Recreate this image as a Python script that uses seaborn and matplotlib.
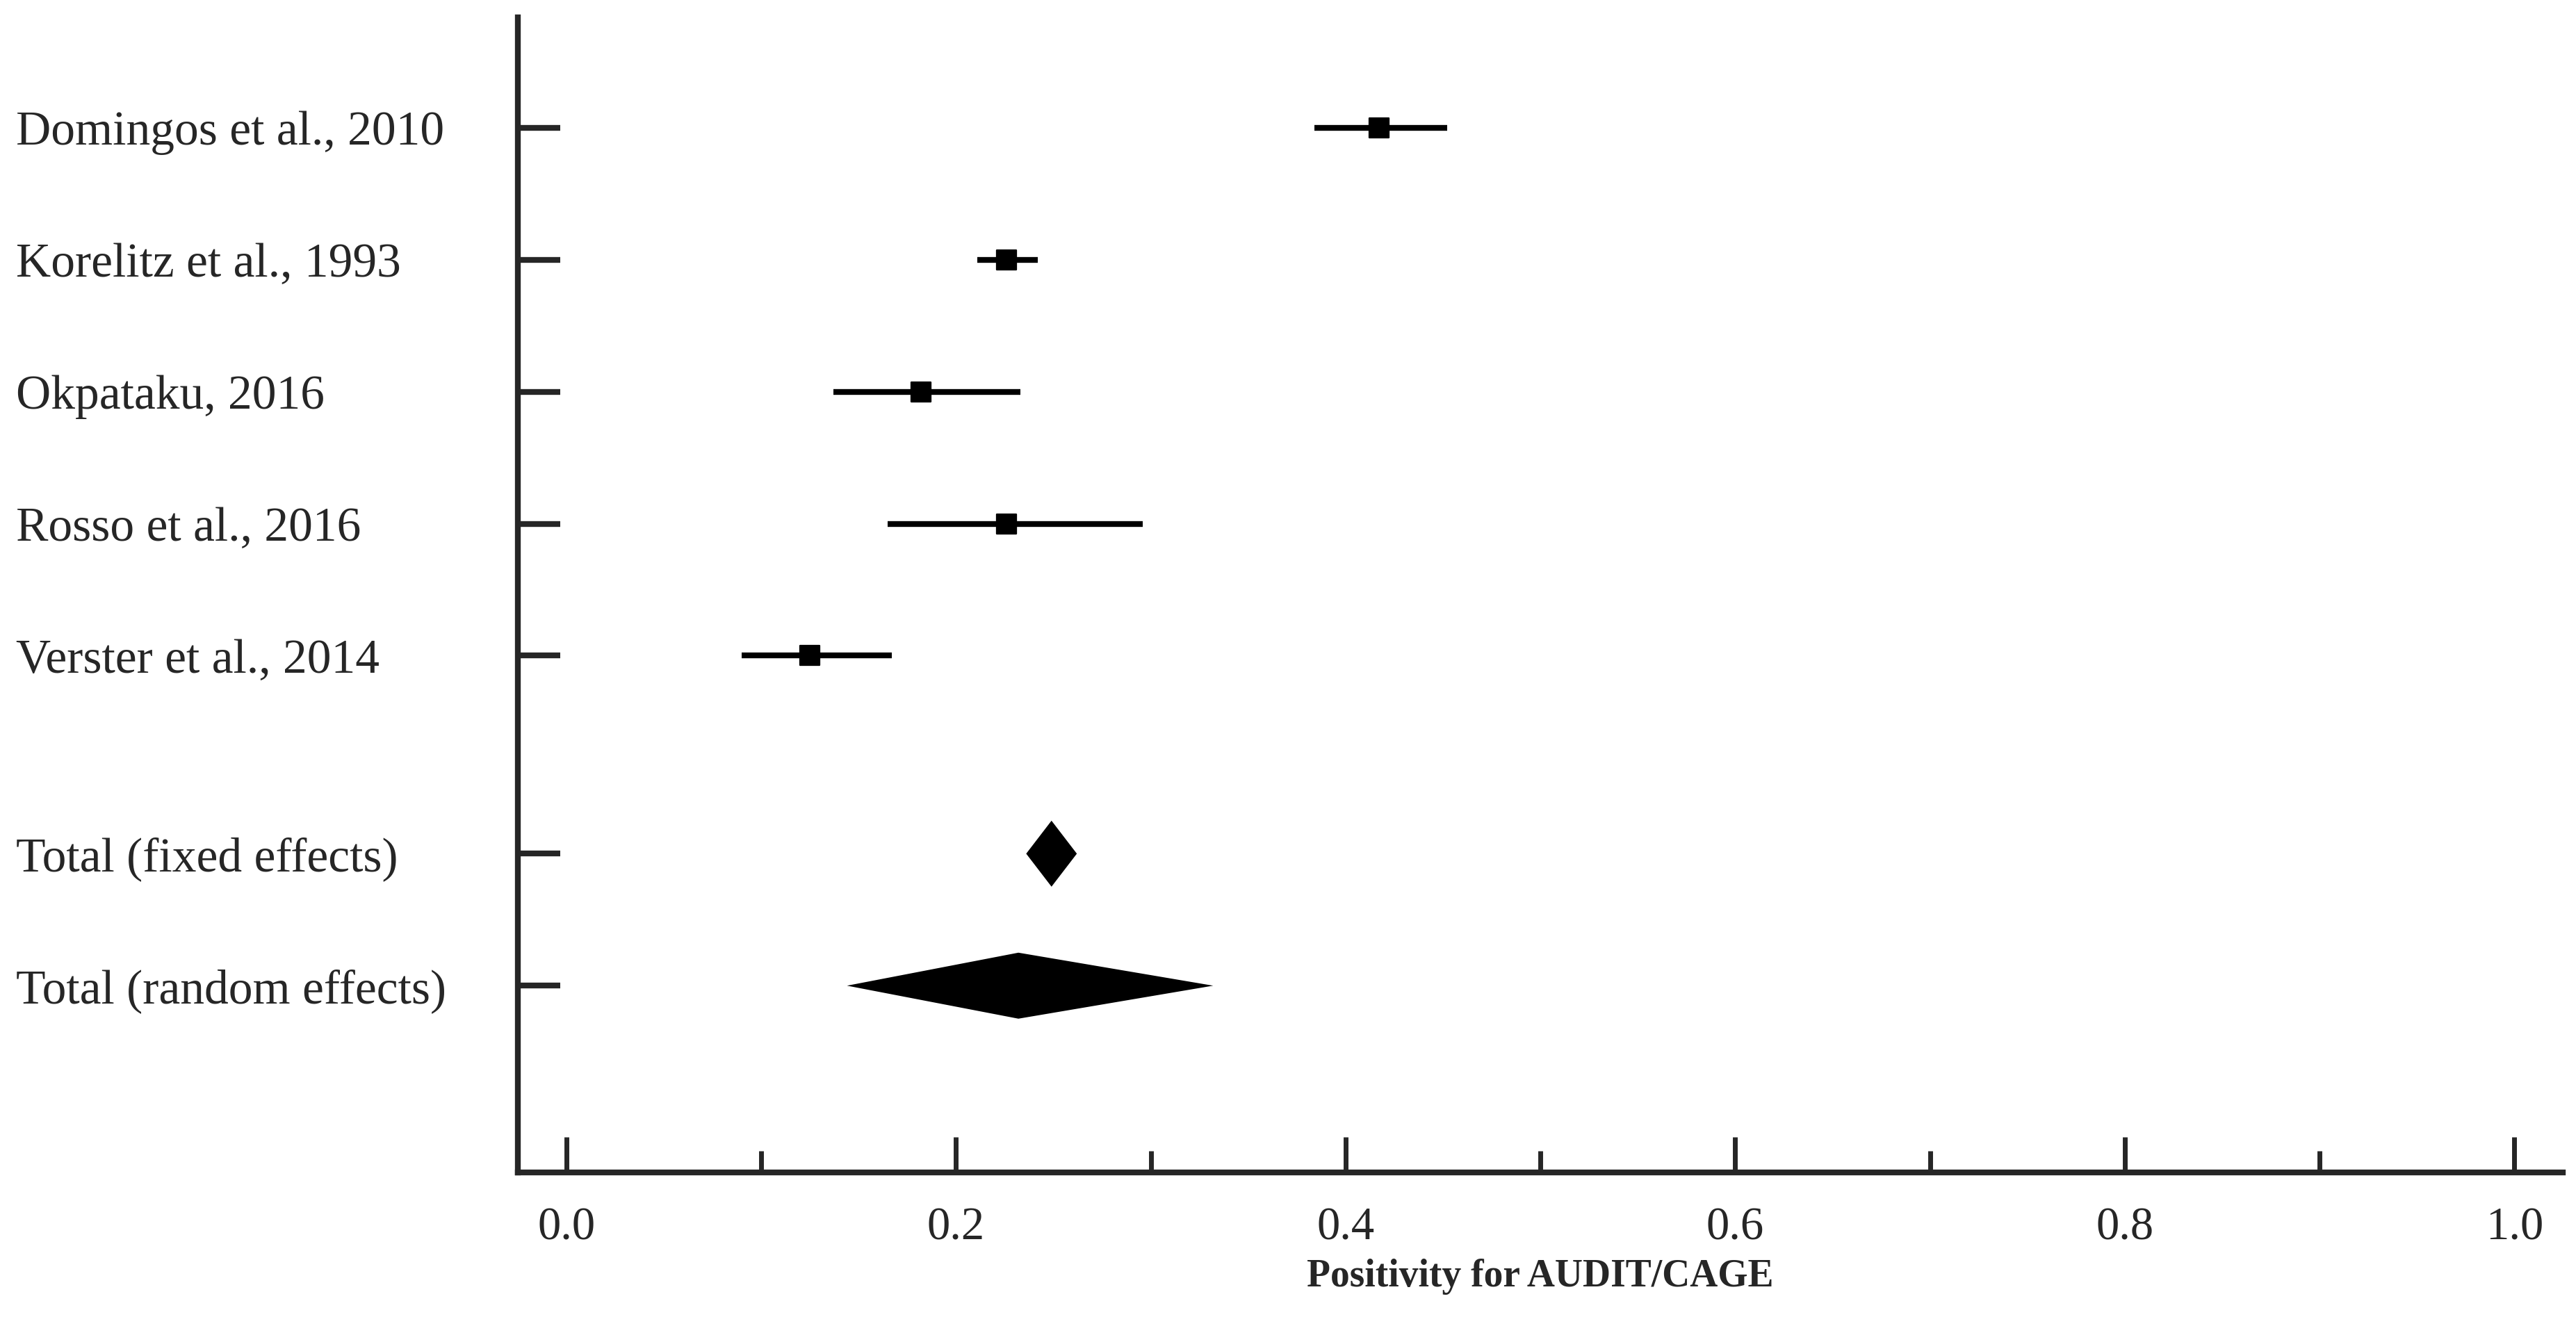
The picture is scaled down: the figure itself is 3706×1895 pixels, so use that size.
import matplotlib
matplotlib.use("Agg")
import matplotlib.pyplot as plt
import seaborn as sns
import pandas as pd
from matplotlib.ticker import MultipleLocator

# study estimates
studies = ["Domingos et al., 2010", "Korelitz et al., 1993", "Okpataku, 2016",
           "Rosso et al., 2016", "Verster et al., 2014"]
estimates = [0.417, 0.226, 0.182, 0.226, 0.125]
lower = [0.384, 0.211, 0.137, 0.165, 0.090]
upper = [0.452, 0.242, 0.233, 0.296, 0.167]

totals = ["Total (fixed effects)", "Total (random effects)"]
total_est = [0.249, 0.232]
total_lo = [0.236, 0.144]
total_hi = [0.262, 0.332]

study_pos = [0, 1, 2, 3, 4]
total_pos = [5.5, 6.5]

sns.set_style("ticks")
plt.rcParams['font.family'] = ['Liberation Serif', 'DejaVu Serif']

fig = plt.figure(figsize=(37.06, 18.95), dpi=100)
ax = fig.add_axes([0.201, 0.110, 0.794, 0.877])

df = pd.DataFrame({"study": studies, "est": estimates, "lo": lower, "hi": upper, "pos": study_pos})

# confidence intervals
ax.hlines(df["pos"], df["lo"], df["hi"], color="black", lw=6)
sns.scatterplot(data=df, x="est", y="pos", marker="s", s=420, color="black",
                edgecolor="black", ax=ax, zorder=3, legend=False)

# pooled diamonds
for est, lo, hi, pos in zip(total_est, total_lo, total_hi, total_pos):
    h = 0.25
    ax.fill([lo, est, hi, est], [pos, pos - h, pos, pos + h], color="black", lw=0)

ax.set_xlim(-0.025, 1.025)
ax.set_ylim(7.9125, -0.8375)

ax.set_yticks(study_pos + total_pos)
ax.set_yticklabels(studies + totals, ha="left", fontsize=50)
ax.tick_params(axis="y", direction="in", length=44, width=6, pad=520)

ax.xaxis.set_major_locator(MultipleLocator(0.2))
ax.xaxis.set_minor_locator(MultipleLocator(0.1))
ax.set_xticklabels([f"{v:.1f}" for v in ax.get_xticks()], fontsize=48)
ax.tick_params(axis="x", which="major", direction="in", length=37, width=5, pad=36)
ax.tick_params(axis="x", which="minor", direction="in", length=22, width=5)

ax.set_xlabel("Positivity for AUDIT/CAGE", fontsize=40, fontweight="bold", labelpad=10)
ax.set_ylabel("")

for side in ["top", "right"]:
    ax.spines[side].set_visible(False)
for side in ["left", "bottom"]:
    ax.spines[side].set_linewidth(6)

fig.savefig("out.png", dpi=100)
